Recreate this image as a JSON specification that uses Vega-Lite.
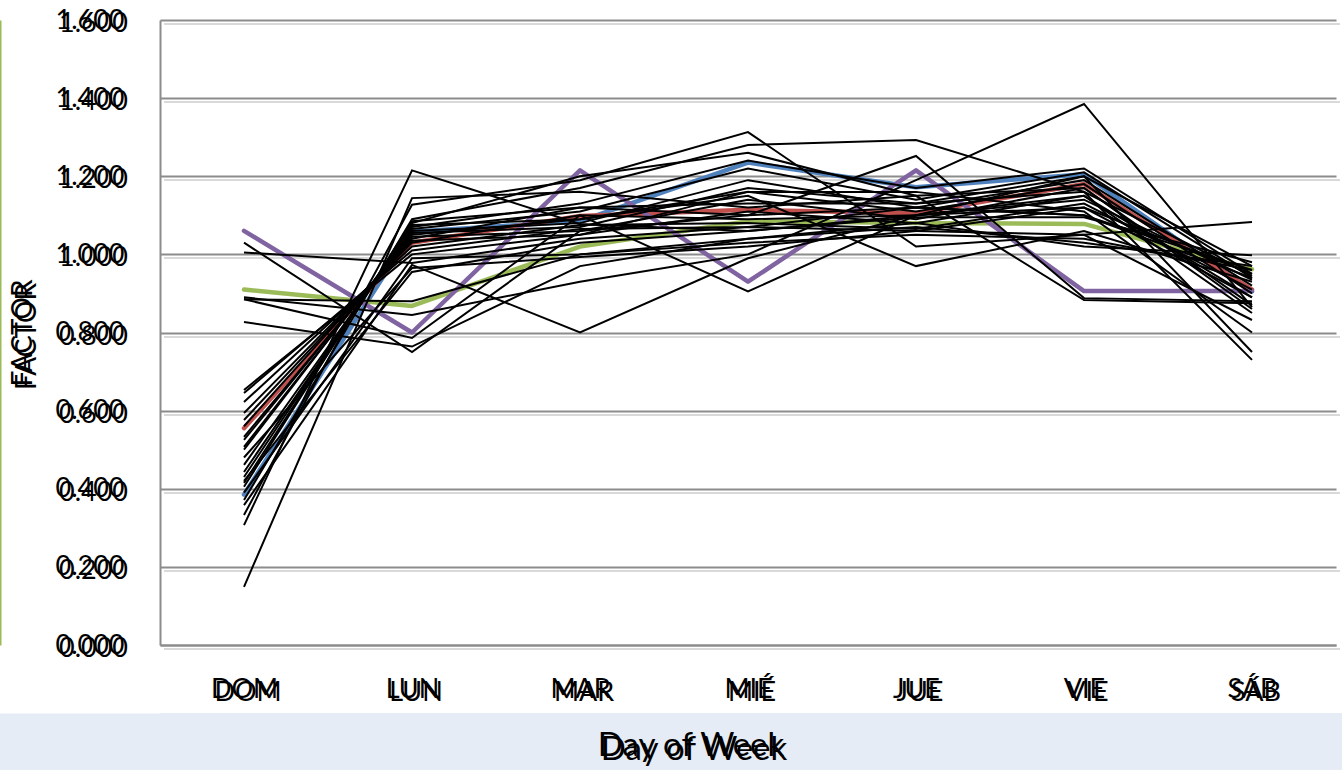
{
  "$schema": "https://vega.github.io/schema/vega-lite/v6.json",
  "padding": {"left": 0, "top": 6, "right": 0, "bottom": 0},
  "background": "white",
  "columns": 1,
  "spacing": 11,
  "config": {"view": {"stroke": null}, "font": "Lato"},
  "concat": [
    {
      "width": 1176,
      "height": 625,
      "data": {"values": [
        {"s": "S1", "DOM": 0.385, "LUN": 1.058, "MAR": 1.085, "MIÉ": 1.235, "JUE": 1.172, "VIE": 1.205, "SÁB": 0.905},
        {"s": "S2", "DOM": 0.555, "LUN": 1.03, "MAR": 1.098, "MIÉ": 1.114, "JUE": 1.105, "VIE": 1.18, "SÁB": 0.91},
        {"s": "S3", "DOM": 0.91, "LUN": 0.868, "MAR": 1.02, "MIÉ": 1.085, "JUE": 1.08, "VIE": 1.078, "SÁB": 0.962},
        {"s": "S4", "DOM": 1.06, "LUN": 0.8, "MAR": 1.215, "MIÉ": 0.93, "JUE": 1.215, "VIE": 0.906, "SÁB": 0.906},
        {"s": "S5", "DOM": 1.03, "LUN": 0.75, "MAR": 1.06, "MIÉ": 1.1, "JUE": 1.12, "VIE": 1.1, "SÁB": 0.94},
        {"s": "S6", "DOM": 1.005, "LUN": 0.978, "MAR": 1.04, "MIÉ": 1.07, "JUE": 1.06, "VIE": 1.05, "SÁB": 1.083},
        {"s": "S7", "DOM": 0.89, "LUN": 0.845, "MAR": 0.93, "MIÉ": 1.0, "JUE": 1.19, "VIE": 1.385, "SÁB": 0.865},
        {"s": "S8", "DOM": 0.885, "LUN": 0.88, "MAR": 1.0, "MIÉ": 1.03, "JUE": 1.05, "VIE": 1.04, "SÁB": 0.96},
        {"s": "S9", "DOM": 0.885, "LUN": 0.786, "MAR": 1.1, "MIÉ": 0.905, "JUE": 1.1, "VIE": 1.12, "SÁB": 0.89},
        {"s": "S10", "DOM": 0.827, "LUN": 0.764, "MAR": 0.97, "MIÉ": 1.04, "JUE": 1.08, "VIE": 1.02, "SÁB": 0.998},
        {"s": "S11", "DOM": 0.149, "LUN": 1.144, "MAR": 1.16, "MIÉ": 1.12, "JUE": 1.15, "VIE": 1.17, "SÁB": 0.87},
        {"s": "S12", "DOM": 0.307, "LUN": 1.215, "MAR": 1.078, "MIÉ": 1.06, "JUE": 1.1, "VIE": 1.15, "SÁB": 0.85},
        {"s": "S13", "DOM": 0.333, "LUN": 1.127, "MAR": 1.19, "MIÉ": 1.313, "JUE": 1.02, "VIE": 1.05, "SÁB": 0.832},
        {"s": "S14", "DOM": 0.358, "LUN": 0.973, "MAR": 0.8, "MIÉ": 0.99, "JUE": 1.1, "VIE": 1.2, "SÁB": 0.75},
        {"s": "S15", "DOM": 0.371, "LUN": 1.09, "MAR": 1.17, "MIÉ": 1.28, "JUE": 1.293, "VIE": 1.16, "SÁB": 0.73},
        {"s": "S16", "DOM": 0.405, "LUN": 1.085, "MAR": 1.12, "MIÉ": 1.1, "JUE": 1.252, "VIE": 0.888, "SÁB": 0.88},
        {"s": "S17", "DOM": 0.415, "LUN": 1.08, "MAR": 1.2, "MIÉ": 1.26, "JUE": 1.15, "VIE": 0.883, "SÁB": 0.875},
        {"s": "S18", "DOM": 0.43, "LUN": 1.075, "MAR": 1.09, "MIÉ": 1.15, "JUE": 0.97, "VIE": 1.06, "SÁB": 0.93},
        {"s": "S19", "DOM": 0.443, "LUN": 1.07, "MAR": 1.13, "MIÉ": 1.24, "JUE": 1.17, "VIE": 1.22, "SÁB": 0.95},
        {"s": "S20", "DOM": 0.461, "LUN": 1.065, "MAR": 1.11, "MIÉ": 1.22, "JUE": 1.14, "VIE": 1.21, "SÁB": 0.94},
        {"s": "S21", "DOM": 0.5, "LUN": 1.06, "MAR": 1.08, "MIÉ": 1.19, "JUE": 1.12, "VIE": 1.19, "SÁB": 0.92},
        {"s": "S22", "DOM": 0.507, "LUN": 1.055, "MAR": 1.07, "MIÉ": 1.17, "JUE": 1.13, "VIE": 1.2, "SÁB": 0.97},
        {"s": "S23", "DOM": 0.525, "LUN": 1.05, "MAR": 1.09, "MIÉ": 1.16, "JUE": 1.11, "VIE": 1.18, "SÁB": 0.9},
        {"s": "S24", "DOM": 0.533, "LUN": 1.045, "MAR": 1.06, "MIÉ": 1.14, "JUE": 1.09, "VIE": 1.17, "SÁB": 0.86},
        {"s": "S25", "DOM": 0.56, "LUN": 1.04, "MAR": 1.12, "MIÉ": 1.13, "JUE": 1.13, "VIE": 1.16, "SÁB": 0.945},
        {"s": "S26", "DOM": 0.576, "LUN": 1.035, "MAR": 1.05, "MIÉ": 1.11, "JUE": 1.08, "VIE": 1.15, "SÁB": 0.89},
        {"s": "S27", "DOM": 0.594, "LUN": 1.03, "MAR": 1.1, "MIÉ": 1.09, "JUE": 1.1, "VIE": 1.14, "SÁB": 0.935},
        {"s": "S28", "DOM": 0.622, "LUN": 1.02, "MAR": 1.075, "MIÉ": 1.08, "JUE": 1.065, "VIE": 1.13, "SÁB": 0.91},
        {"s": "S29", "DOM": 0.645, "LUN": 1.01, "MAR": 1.065, "MIÉ": 1.07, "JUE": 1.12, "VIE": 1.1, "SÁB": 0.96},
        {"s": "S30", "DOM": 0.653, "LUN": 1.0, "MAR": 1.05, "MIÉ": 1.16, "JUE": 1.16, "VIE": 1.11, "SÁB": 0.8},
        {"s": "S31", "DOM": 0.39, "LUN": 0.99, "MAR": 1.0, "MIÉ": 1.04, "JUE": 1.07, "VIE": 1.03, "SÁB": 0.97},
        {"s": "S32", "DOM": 0.48, "LUN": 0.965, "MAR": 0.993, "MIÉ": 1.02, "JUE": 1.06, "VIE": 1.12, "SÁB": 0.95},
        {"s": "S33", "DOM": 0.42, "LUN": 0.955, "MAR": 1.03, "MIÉ": 1.06, "JUE": 1.095, "VIE": 1.095, "SÁB": 0.98}
      ]},
      "transform": [{"fold": ["DOM", "LUN", "MAR", "MIÉ", "JUE", "VIE", "SÁB"], "as": ["day", "factor"]}],
      "layer": [
        {
          "transform": [{"filter": {"field": "s", "oneOf": ["S1", "S2", "S3", "S4"]}}],
          "mark": {"type": "line", "strokeWidth": 4.5, "strokeCap": "round", "strokeJoin": "round"},
          "encoding": {
            "x": {"field": "day", "type": "ordinal", "sort": ["DOM", "LUN", "MAR", "MIÉ", "JUE", "VIE", "SÁB"],
              "scale": {"type": "point", "padding": 0.5},
              "axis": {"orient": "bottom", "title": null, "labelAngle": 0, "labelPadding": 31, "labelFontSize": 27, "labelColor": "black", "labelFont": "Lato",
                "domain": true, "domainColor": "#8C8C8C", "domainWidth": 2, "ticks": false, "grid": false}},
            "y": {"field": "factor", "type": "quantitative", "scale": {"domain": [0, 1.6], "nice": false},
              "axis": {"orient": "left", "values": [0, 0.2, 0.4, 0.6, 0.8, 1.0, 1.2, 1.4, 1.6], "format": ".3f",
                "grid": true, "gridColor": "#8C8C8C", "gridWidth": 2, "domain": true, "domainColor": "#8C8C8C", "domainWidth": 2,
                "ticks": false, "labelPadding": 36, "labelFontSize": 27, "labelColor": "black", "labelFont": "Lato",
                "title": "FACTOR", "titleFont": "Lato", "titleFontSize": 28, "titleFontWeight": "normal", "titleColor": "black", "titlePadding": 17}},
            "color": {"field": "s", "type": "nominal", "legend": null,
              "scale": {"domain": ["S1", "S2", "S3", "S4"], "range": ["#4F81BD", "#C0504D", "#9BBB59", "#8064A2"]}},
            "detail": {"field": "s"}
          }
        },
        {
          "transform": [{"filter": {"field": "s", "oneOf": ["S5", "S6", "S7", "S8", "S9", "S10", "S11", "S12", "S13", "S14", "S15", "S16", "S17", "S18", "S19"]}}],
          "mark": {"type": "line", "color": "black", "strokeWidth": 2},
          "encoding": {
            "x": {"field": "day", "type": "ordinal", "sort": ["DOM", "LUN", "MAR", "MIÉ", "JUE", "VIE", "SÁB"],
              "axis": {"orient": "bottom", "translate": 4, "title": null, "labelAngle": 0, "labelPadding": 31, "labelFontSize": 27, "labelColor": "black", "labelFont": "Lato",
                "domain": false, "ticks": false, "grid": false}},
            "y": {"field": "factor", "type": "quantitative",
              "axis": {"orient": "left", "translate": 4, "values": [0, 0.2, 0.4, 0.6, 0.8, 1.0, 1.2, 1.4, 1.6], "format": ".3f",
                "grid": true, "gridColor": "#D9D9D9", "gridWidth": 2, "domain": false,
                "ticks": false, "labelPadding": 36, "labelFontSize": 27, "labelColor": "black", "labelFont": "Lato",
                "title": "FACTOR", "titleFont": "Lato", "titleFontSize": 28, "titleFontWeight": "normal", "titleColor": "black", "titlePadding": 17}},
            "detail": {"field": "s"}
          }
        },
        {
          "transform": [{"filter": {"field": "s", "oneOf": ["S20", "S21", "S22", "S23", "S24", "S25", "S26", "S27", "S28", "S29", "S30", "S31", "S32", "S33"]}}],
          "mark": {"type": "line", "color": "black", "strokeWidth": 2},
          "encoding": {
            "x": {"field": "day", "type": "ordinal", "sort": ["DOM", "LUN", "MAR", "MIÉ", "JUE", "VIE", "SÁB"], "axis": null},
            "y": {"field": "factor", "type": "quantitative",
              "axis": {"orient": "left", "offset": 160, "grid": false, "domain": true, "domainColor": "#9BBB59", "domainWidth": 2,
                "ticks": false, "labels": false, "title": null}},
            "detail": {"field": "s"}
          }
        }
      ],
      "resolve": {"axis": {"x": "independent", "y": "independent"}}
    },
    {
      "width": 1182,
      "height": 57,
      "view": {"fill": "#E5ECF5", "stroke": null},
      "data": {"values": [{"t": "Day of Week"}]},
      "encoding": {
        "y": {"field": "t", "type": "nominal", "scale": {"type": "point", "padding": 0.5},
          "axis": {"orient": "left", "offset": 80.5, "domain": true, "domainColor": "#E5ECF5", "domainWidth": 161, "domainCap": "butt",
            "labels": false, "ticks": false, "grid": false, "title": null}},
        "text": {"field": "t"}
      },
      "layer": [
        {"mark": {"type": "text", "font": "Lato", "fontSize": 33, "color": "black", "baseline": "middle", "dx": -60, "dy": 4}},
        {"mark": {"type": "text", "font": "Lato", "fontSize": 33, "color": "black", "baseline": "middle", "dx": -57, "dy": 8}}
      ]
    }
  ]
}
